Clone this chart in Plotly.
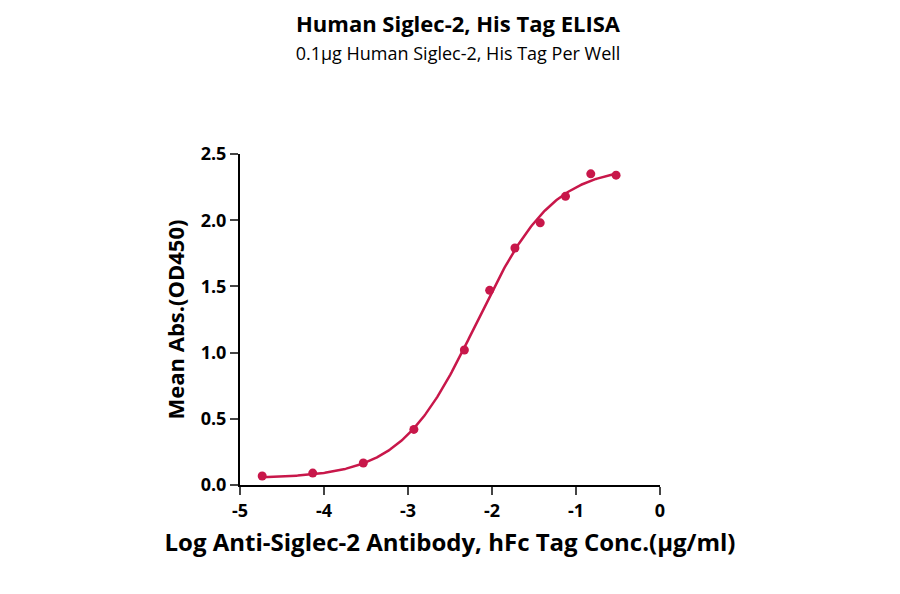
import numpy as np
import plotly.graph_objects as go

log_conc = [-4.736, -4.134, -3.532, -2.930, -2.329, -2.028, -1.727, -1.426, -1.125, -0.824, -0.523]
od450 = [0.068, 0.09, 0.166, 0.42, 1.02, 1.47, 1.79, 1.98, 2.18, 2.35, 2.34]
x_ticks = [-5, -4, -3, -2, -1, 0]
x_labels = ["-5", "-4", "-3", "-2", "-1", "0"]
y_ticks = [0, 0.5, 1, 1.5, 2, 2.5]
y_labels = ["0.0", "0.5", "1.0", "1.5", "2.0", "2.5"]

x = np.array(log_conc); y = np.array(od450)
def f(xx, b, t, c, h):
    return b + (t - b) / (1 + 10 ** ((c - xx) * h))
best = None
for b in np.linspace(0.0, 0.1, 11):
    for t in np.linspace(2.3, 2.6, 31):
        for c in np.linspace(-2.5, -1.9, 61):
            for h in np.linspace(0.7, 1.5, 41):
                e = np.sum((f(x, b, t, c, h) - y) ** 2)
                if best is None or e < best[0]:
                    best = (e, b, t, c, h)
_, b, t, c, h = best
xs = np.linspace(min(log_conc), max(log_conc), 300)

col = "#c8174a"
fig = go.Figure()
fig.add_trace(go.Scatter(x=xs, y=f(xs, b, t, c, h), mode="lines", line=dict(color=col, width=2.5), hoverinfo="skip"))
fig.add_trace(go.Scatter(x=log_conc, y=od450, mode="markers", marker=dict(color=col, size=9), cliponaxis=False))
font = "Open Sans"
fig.update_layout(
    width=900, height=594, showlegend=False, plot_bgcolor="white", paper_bgcolor="white",
    margin=dict(l=232, r=248, t=146, b=117),
    font=dict(family=font, color="black"),
    title=dict(text="<b>Human Siglec-2, His Tag ELISA</b><br><span style='font-size:18px'>0.1μg Human Siglec-2, His Tag Per Well</span>",
               x=0.5, xanchor="center", y=0.96, yanchor="top", font=dict(size=22)),
    xaxis=dict(range=[-5, 0], tickvals=x_ticks, ticktext=["<b>%s</b>" % s for s in x_labels], showgrid=False, zeroline=False,
               showline=True, linecolor="black", linewidth=2, ticks="outside", ticklen=8, tickwidth=2,
               tickfont=dict(size=18, family=font),
               title=dict(text="<b>Log Anti-Siglec-2 Antibody, hFc Tag Conc.(μg/ml)</b>", font=dict(size=24), standoff=14)),
    yaxis=dict(range=[0, 2.5], tickvals=y_ticks, ticktext=["<b>%s</b>" % s for s in y_labels],
               showgrid=False, zeroline=False, showline=True, linecolor="black", linewidth=2,
               ticks="outside", ticklen=8, tickwidth=2, tickfont=dict(size=18, family=font),
               title=dict(text="<b>Mean Abs.(OD450)</b>", font=dict(size=22), standoff=10)),
)
fig.write_html("out.html")
